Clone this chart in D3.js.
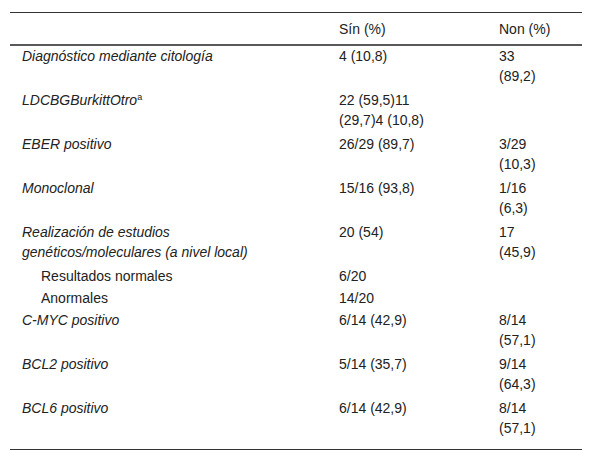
<!DOCTYPE html>
<html><head><meta charset="utf-8">
<script src="https://cdn.jsdelivr.net/npm/d3@7"></script>
<style>body{margin:0;background:#fff}</style></head>
<body><svg id="c" width="592" height="460"></svg>
<script>
const headers = ['', 'Sín (%)', 'Non (%)']
const labels = [['Diagnóstico mediante citología'], ['LDCBGBurkittOtro'], ['EBER positivo'], ['Monoclonal'],
  ['Realización de estudios', 'genéticos/moleculares (a nivel local)'], ['Resultados normales'], ['Anormales'],
  ['C-MYC positivo'], ['BCL2 positivo'], ['BCL6 positivo']]
const italic = [true, true, true, true, true, false, false, true, true, true]
const sin = [['4 (10,8)'], ['22 (59,5)11', '(29,7)4 (10,8)'], ['26/29 (89,7)'], ['15/16 (93,8)'], ['20 (54)'],
  ['6/20'], ['14/20'], ['6/14 (42,9)'], ['5/14 (35,7)'], ['6/14 (42,9)']]
const non = [['33', '(89,2)'], [], ['3/29', '(10,3)'], ['1/16', '(6,3)'], ['17', '(45,9)'], [], [],
  ['8/14', '(57,1)'], ['9/14', '(64,3)'], ['8/14', '(57,1)']]

const svg = d3.select('#c').style('font-family', '"Liberation Sans", Arial, sans-serif').style('font-size', '14px')
const x = d3.scaleOrdinal().domain([0, 1, 2]).range([22, 339, 499])
svg.append('line').attr('x1', 10).attr('x2', 582).attr('y1', 12.5).attr('y2', 12.5).attr('stroke', '#333')
svg.append('line').attr('x1', 10).attr('x2', 582).attr('y1', 45).attr('y2', 45).attr('stroke', '#222').attr('stroke-width', 1.6)
svg.append('line').attr('x1', 10).attr('x2', 582).attr('y1', 449.5).attr('y2', 449.5).attr('stroke', '#333')
headers.forEach((h, i) => svg.append('text').attr('x', x(i)).attr('y', 34).attr('fill', '#222').text(h))

let y = 61
labels.forEach((lab, r) => {
  const n = Math.max(lab.length, sin[r].length, non[r].length)
  const indent = italic[r] ? 0 : 19
  ;[lab, sin[r], non[r]].forEach((cell, c) => {
    cell.forEach((t, k) => {
      const el = svg.append('text').attr('x', x(c) + (c === 0 ? indent : 0)).attr('y', y + k * 20).attr('fill', '#222')
        .style('font-style', c === 0 && italic[r] ? 'italic' : 'normal').text(t)
      if (r === 1 && c === 0) el.append('tspan').attr('dy', -5).style('font-size', '9px').style('font-style', 'normal').text('a')
    })
  })
  y += n * 22
})
</script></body></html>
